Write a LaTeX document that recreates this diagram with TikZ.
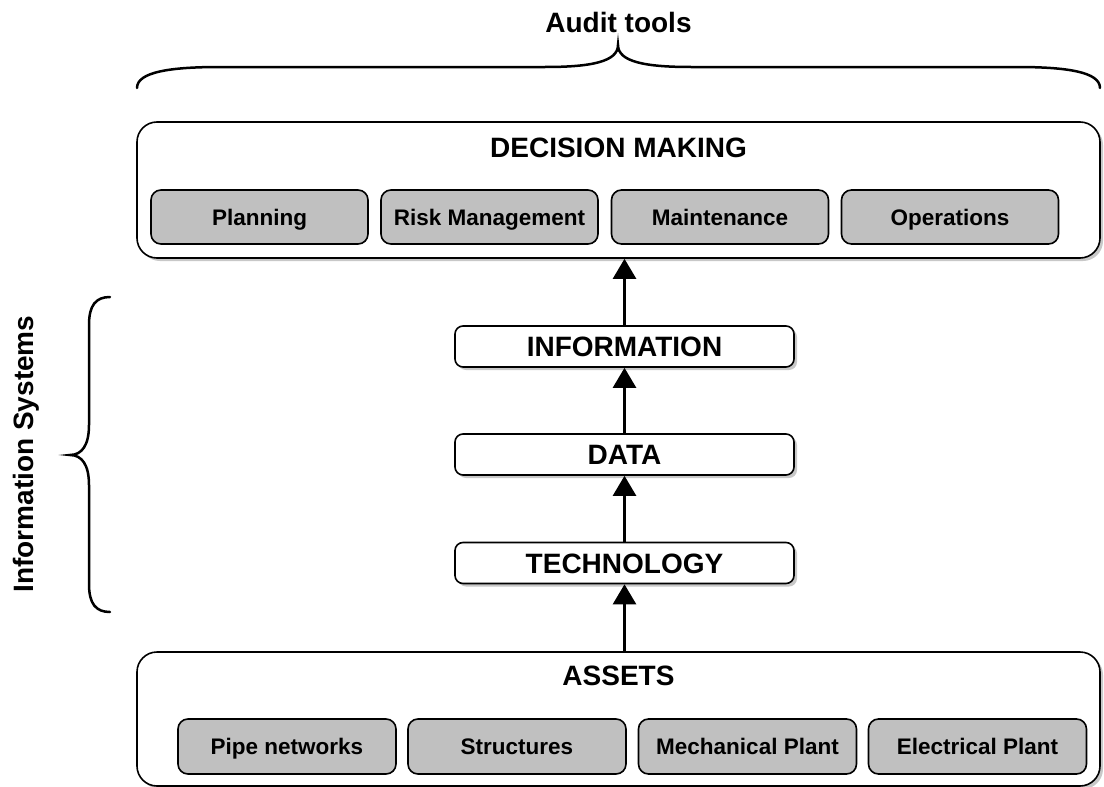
\documentclass[tikz,border=0pt]{standalone}
\usepackage{fontspec}
\setmainfont{Liberation Sans}
\usetikzlibrary{arrows.meta,shadows}
\definecolor{boxgray}{RGB}{192,192,192}
\definecolor{shadowgray}{RGB}{200,200,200}
\tikzset{
  myshadow/.style={drop shadow={shadow xshift=3pt,shadow yshift=-3pt,fill=shadowgray,opacity=1}},
  outerbox/.style={draw,line width=1.6pt,rounded corners=20pt,fill=white,minimum width=963pt,inner sep=0pt,myshadow},
  midbox/.style={draw,line width=1.6pt,rounded corners=8pt,fill=white,minimum width=339pt,minimum height=41pt,inner sep=0pt,text height=20pt,text depth=0pt,myshadow,font=\fontsize{28}{32}\selectfont\bfseries},
  subbox/.style={draw,line width=1.6pt,rounded corners=10pt,fill=boxgray,minimum height=55pt,inner sep=0pt,text height=16pt,text depth=0pt,font=\fontsize{22.5}{26}\selectfont\bfseries},
  headtxt/.style={inner sep=0pt,font=\fontsize{28}{32}\selectfont\bfseries},
  arr/.style={line width=2.5pt,-{Triangle[length=20pt,width=23pt]}},
  brace/.style={line width=2.5pt,line cap=round},
}
\begin{document}
\begin{tikzpicture}[x=1pt,y=-1pt]
\useasboundingbox (0,0) rectangle (1104,787);
% outer boxes
\node[outerbox,minimum height=136pt] (dm) at (618.5,190) {};
\node[outerbox,minimum height=134pt] (assets) at (618.5,719) {};
\node[headtxt,text height=20pt,text depth=0pt] (dmt) at (618.5,147) {DECISION MAKING};
\node[headtxt,text height=20pt,text depth=0pt] (ast) at (618.5,675) {ASSETS};
% decision sub boxes
\node[subbox,minimum width=217pt,minimum height=54pt] (plan) at (259.5,217) {Planning};
\node[subbox,minimum width=217pt,minimum height=54pt] (risk) at (489.5,217) {Risk Management};
\node[subbox,minimum width=217pt,minimum height=54pt] (maint) at (720,217) {Maintenance};
\node[subbox,minimum width=217pt,minimum height=54pt] (ops) at (950,217) {Operations};
% asset sub boxes
\node[subbox,minimum width=218pt] (pipe) at (287,746.5) {Pipe networks};
\node[subbox,minimum width=218pt] (struct) at (517,746.5) {Structures};
\node[subbox,minimum width=218pt] (mech) at (747.5,746.5) {Mechanical Plant};
\node[subbox,minimum width=218pt] (elec) at (977.5,746.5) {Electrical Plant};
% middle boxes
\node[midbox] (info) at (624.5,346.5) {INFORMATION};
\node[midbox] (data) at (624.5,454.5) {DATA};
\node[midbox] (tech) at (624.5,563) {TECHNOLOGY};
% arrows
\draw[arr] (tech.south |- assets.north) -- (tech.south);
\draw[arr] (tech.north) -- (data.south);
\draw[arr] (data.north) -- (info.south);
\draw[arr] (info.north) -- (info.north |- dm.south);
% top brace
\coordinate (tl) at (137,88);
\coordinate (tt) at (618,45);
\coordinate (tr) at (1100,88);
\draw[brace] (tl) .. controls (137,72) and (170,67) .. (220,67) -- (545,67)
  .. controls (590,67) and (618,62) .. (tt)
  .. controls (618,62) and (646,67) .. (691,67) -- (1017,67)
  .. controls (1067,67) and (1100,72) .. (tr);
\node[headtxt,text height=20pt,text depth=0pt] (audit) at (618.5,22) {Audit tools};
% left brace
\coordinate (lt) at (110,297);
\coordinate (lm) at (70,455);
\coordinate (lb) at (110,612);
\draw[brace] (lt) .. controls (96,297) and (89,305) .. (89,325) -- (89,425)
  .. controls (89,445) and (82,455) .. (lm)
  .. controls (82,455) and (89,465) .. (89,485) -- (89,584)
  .. controls (89,604) and (96,612) .. (lb);
\node[headtxt,rotate=90,text height=20pt,text depth=0pt] (infosys) at (23,454) {Information Systems};
\end{tikzpicture}
\end{document}
